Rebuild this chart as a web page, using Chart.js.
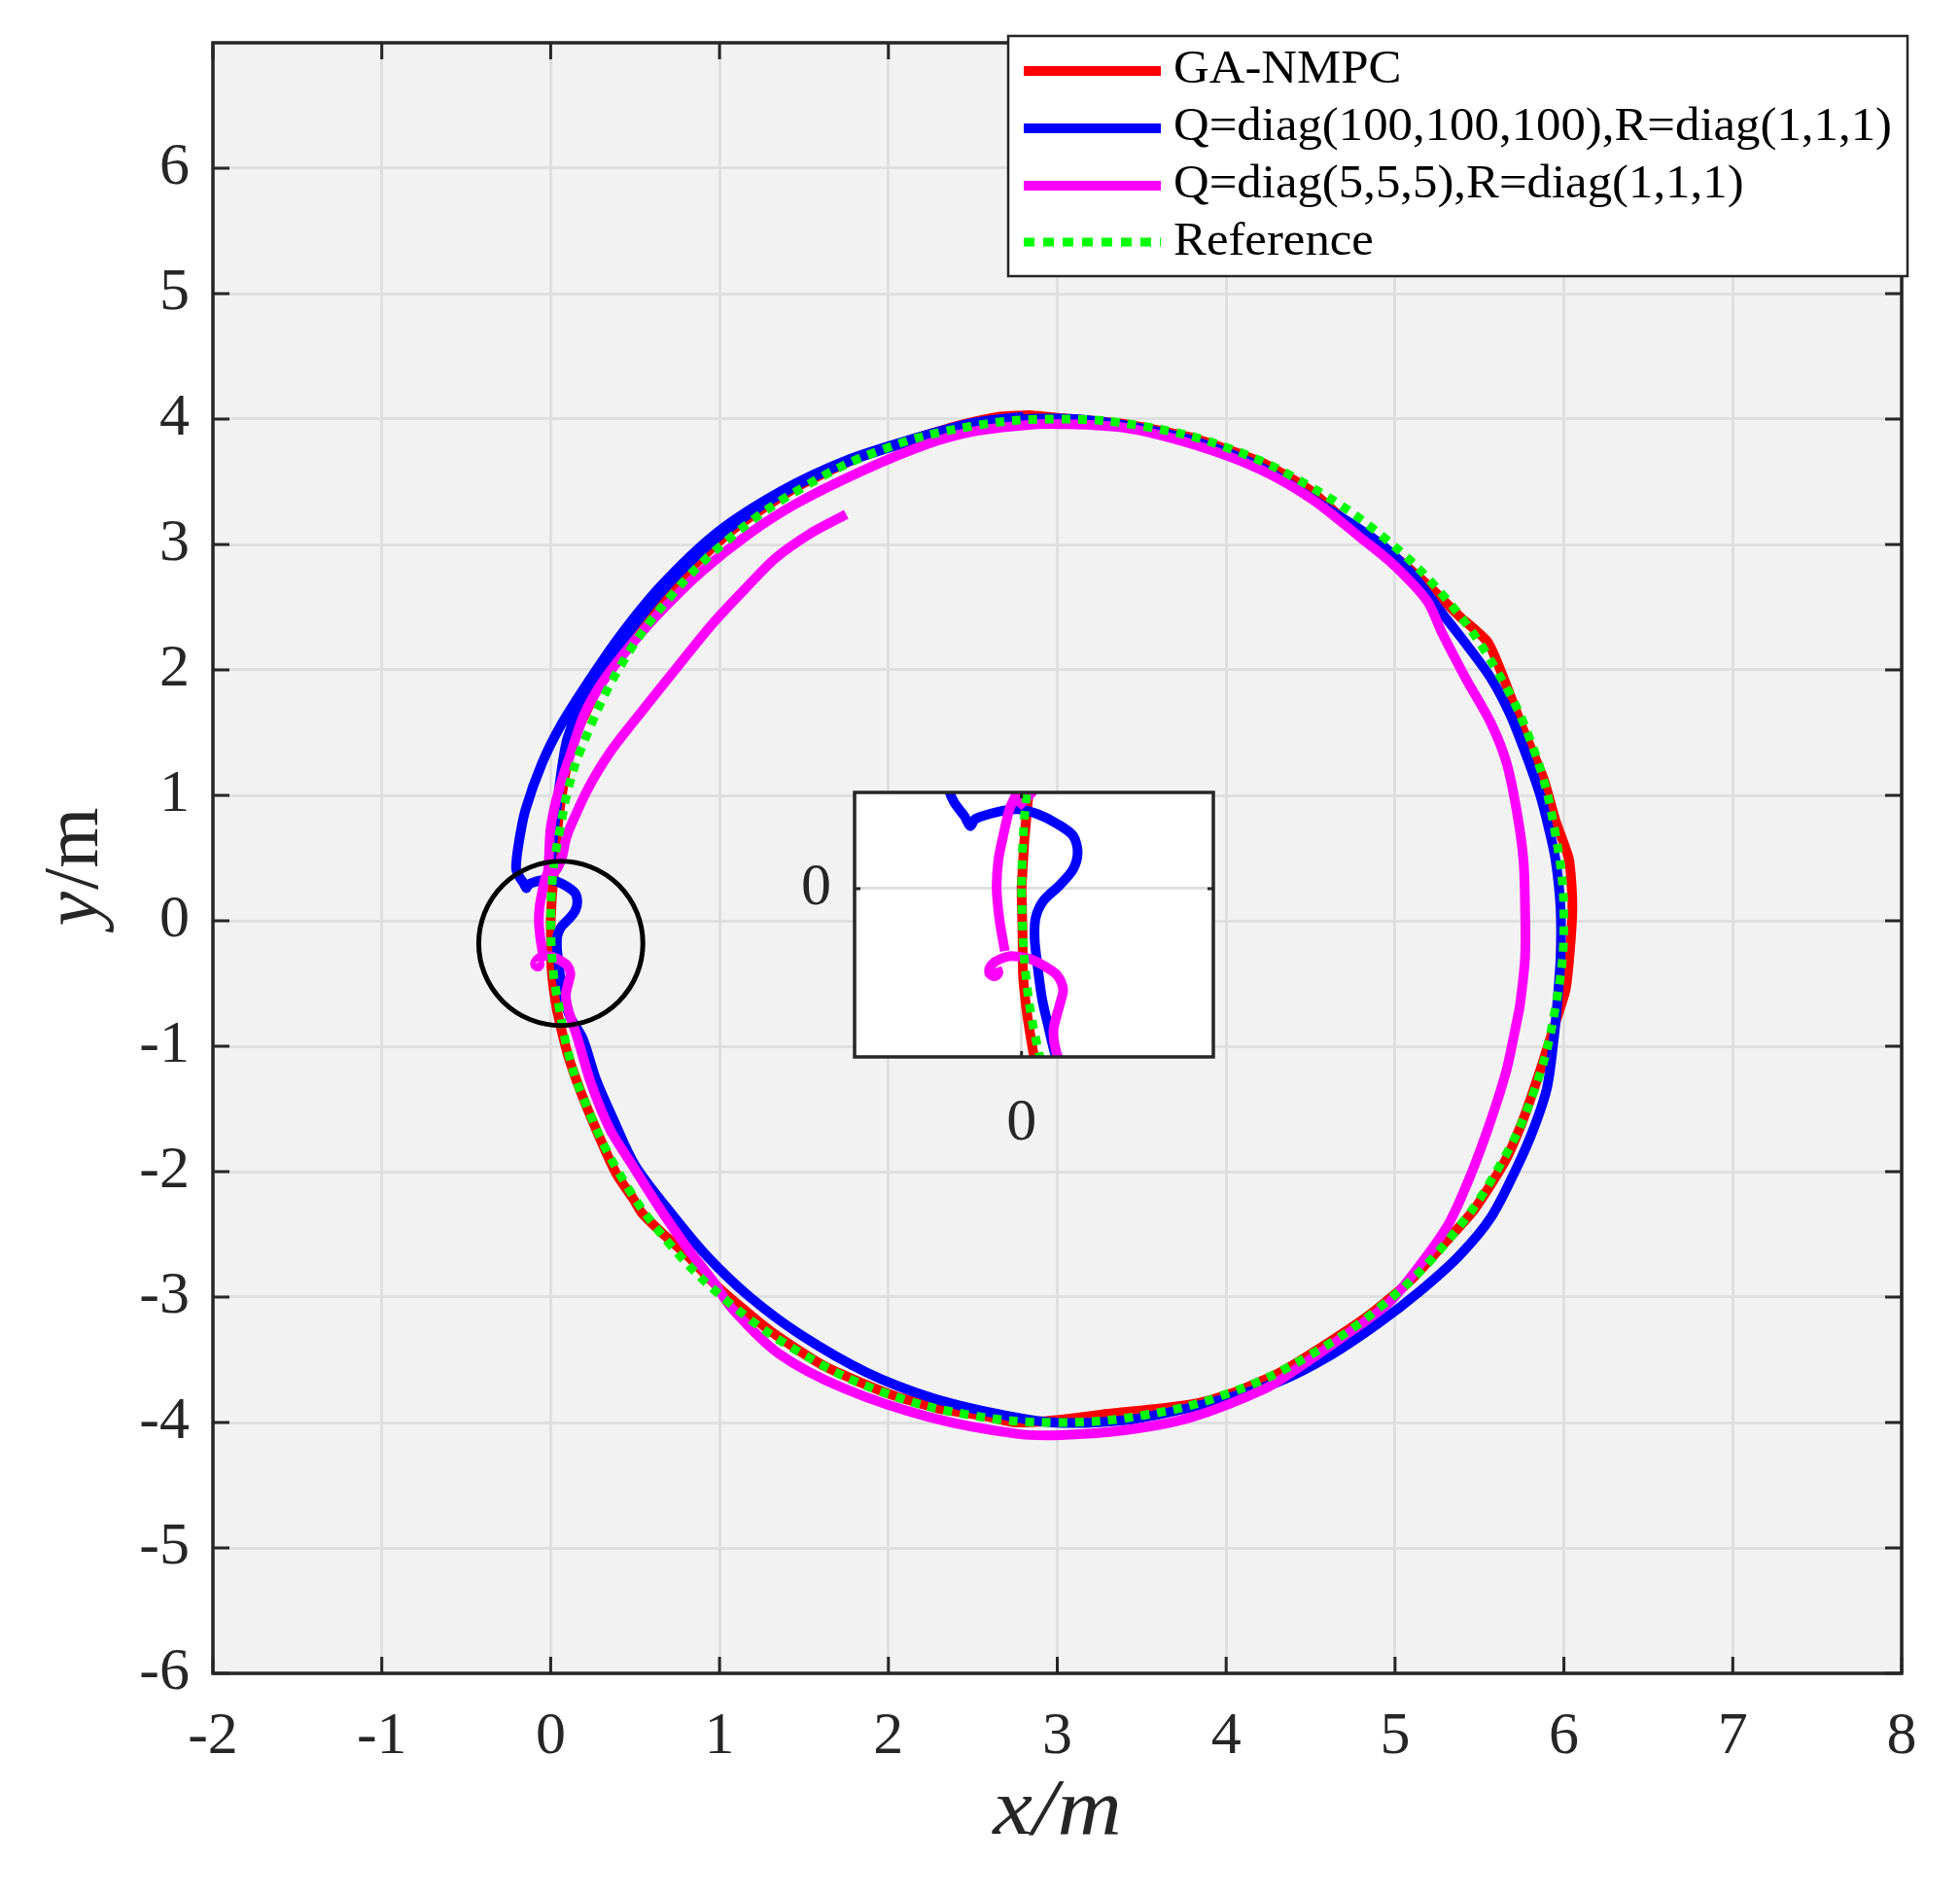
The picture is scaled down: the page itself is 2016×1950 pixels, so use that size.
<!DOCTYPE html>
<html>
<head>
<meta charset="utf-8">
<script src="https://cdn.jsdelivr.net/npm/chart.js@4.4.1/dist/chart.umd.min.js"></script>
<style>
  html, body { margin: 0; padding: 0; background: #fff; }
  #wrap { position: relative; width: 2016px; height: 1950px; }
  #main { position: absolute; left: 0; top: 0; }
  #inset { position: absolute; left: 760px; top: 770px; }
</style>
</head>
<body>
<div id="wrap">
  <canvas id="main" width="2016" height="1950"></canvas>
  <canvas id="inset" width="540" height="430"></canvas>
</div>
<script>
// ── Data (x/m and y/m) ──
const seriesNames = [
  'GA-NMPC',
  'Q=diag(100,100,100),R=diag(1,1,1)',
  'Q=diag(5,5,5),R=diag(1,1,1)',
  'Reference',
];
const seriesColors = ['#ff0000', '#0000ff', '#ff00ff', '#00ff00'];

const xTicks = [-2, -1, 0, 1, 2, 3, 4, 5, 6, 7, 8];
const yTicks = [-6, -5, -4, -3, -2, -1, 0, 1, 2, 3, 4, 5, 6];
const insetTicks = [0];

// reference trajectory
const refPath = [
  [0.00, 0.00], [0.004, -0.20], [0.015, -0.40], [0.03, -0.55], [0.05, -0.69], [0.10, -1.03], [0.18, -1.37],
  [0.40, -2.00], [0.70, -2.57], [1.07, -3.06], [1.50, -3.46], [1.97, -3.76], [2.48, -3.94],
  [3.00, -4.00], [3.52, -3.94], [4.03, -3.76], [4.50, -3.46], [4.93, -3.06], [5.30, -2.57],
  [5.60, -2.00], [5.82, -1.37], [5.95, -0.69], [6.00, 0.00], [5.95, 0.69], [5.82, 1.37],
  [5.60, 2.00], [5.30, 2.57], [4.93, 3.06], [4.50, 3.46], [4.03, 3.76], [3.52, 3.94],
  [3.00, 4.00], [2.48, 3.94], [1.97, 3.76], [1.50, 3.46], [1.07, 3.06], [0.70, 2.57],
  [0.40, 2.00], [0.18, 1.37], [0.10, 1.03], [0.05, 0.69], [0.03, 0.55], [0.015, 0.40], [0.004, 0.20], [0.00, 0.00],
];

// GA-NMPC
const gaPath = [
  [0.00, 0.00], [0.003, -0.20], [0.004, -0.35], [0.012, -0.48], [0.026, -0.62], [0.04, -0.73],
  [0.10, -1.06], [0.18, -1.37], [0.30, -1.76], [0.39, -2.02], [0.49, -2.22], [0.54, -2.33],
  [0.66, -2.49], [0.81, -2.67], [0.99, -2.92], [1.30, -3.27], [1.62, -3.55], [2.00, -3.77],
  [2.30, -3.89], [2.58, -3.95], [2.75, -4.00], [3.00, -3.98], [3.30, -3.93], [3.60, -3.89],
  [3.85, -3.84], [4.05, -3.76], [4.32, -3.60], [4.61, -3.36], [4.86, -3.13], [5.09, -2.87],
  [5.30, -2.56], [5.47, -2.30], [5.65, -1.92], [5.76, -1.58], [5.86, -1.19], [5.95, -0.81],
  [6.01, -0.55], [6.04, -0.16], [6.05, 0.15], [6.03, 0.49], [5.95, 0.80], [5.88, 1.13],
  [5.76, 1.52], [5.65, 1.91], [5.55, 2.22], [5.38, 2.43], [5.19, 2.68], [4.99, 2.91],
  [4.80, 3.07], [4.50, 3.43], [4.20, 3.66], [3.80, 3.85], [3.40, 3.96], [3.00, 4.01],
  [2.85, 4.03], [2.66, 4.02], [2.42, 3.95], [2.10, 3.82], [1.85, 3.71], [1.46, 3.46],
  [1.08, 3.12], [0.73, 2.68], [0.50, 2.32], [0.39, 2.12], [0.31, 1.96], [0.24, 1.75],
  [0.12, 1.39], [0.06, 0.95], [0.03, 0.60], [0.02, 0.40], [0.008, 0.20], [0.00, 0.00],
];

// Q=diag(100,100,100)
const q100Path = [
  [0.00, 0.33], [0.01, 0.60], [0.04, 0.95], [0.07, 1.25], [0.10, 1.46], [0.17, 1.70],
  [0.28, 1.95], [0.44, 2.26], [0.68, 2.66], [1.00, 3.07], [1.37, 3.41], [1.76, 3.66],
  [2.15, 3.83], [2.50, 3.95], [2.80, 4.00], [3.10, 4.00], [3.40, 3.95], [3.80, 3.83],
  [4.20, 3.62], [4.55, 3.33], [4.90, 3.02], [5.09, 2.78], [5.28, 2.45], [5.43, 2.19],
  [5.57, 1.93], [5.68, 1.65], [5.78, 1.31], [5.86, 1.00], [5.91, 0.74], [5.95, 0.49],
  [5.98, 0.10], [5.98, -0.29], [5.96, -0.67], [5.94, -0.94], [5.90, -1.33], [5.82, -1.66],
  [5.72, -1.97], [5.57, -2.36], [5.38, -2.67], [5.15, -2.95], [4.90, -3.21], [4.61, -3.47],
  [4.32, -3.67], [4.05, -3.79], [3.79, -3.88], [3.41, -3.98], [2.97, -4.00], [2.64, -3.93],
  [2.25, -3.80], [1.87, -3.60], [1.48, -3.30], [1.18, -3.00], [0.93, -2.68], [0.73, -2.36],
  [0.50, -1.95], [0.37, -1.58], [0.27, -1.27], [0.19, -0.94], [0.12, -0.78], [0.095, -0.69],
  [0.075, -0.57], [0.058, -0.46], [0.045, -0.32], [0.037, -0.21], [0.04, -0.12], [0.062, -0.05],
  [0.108, 0.015], [0.145, 0.08], [0.158, 0.15], [0.145, 0.22], [0.10, 0.27], [0.045, 0.31],
  [-0.01, 0.33], [-0.065, 0.32], [-0.13, 0.29], [-0.144, 0.26], [-0.16, 0.30], [-0.19, 0.36],
  [-0.205, 0.42], [-0.19, 0.61], [-0.15, 0.88], [-0.05, 1.26], [0.065, 1.57], [0.22, 1.90],
  [0.41, 2.27], [0.66, 2.68], [0.99, 3.10], [1.37, 3.43], [1.75, 3.67], [2.14, 3.84],
  [2.50, 3.97], [2.80, 4.02],
];

// Q=diag(5,5,5): main lap ending in the small blob, then (after the gap) the inner arc
const q5Path = [
  [-0.047, -0.26], [-0.062, -0.13], [-0.07, 0.00], [-0.065, 0.12], [-0.05, 0.23], [-0.034, 0.33],
  [-0.015, 0.40], [0.00, 0.74], [0.05, 1.05], [0.12, 1.34], [0.20, 1.65], [0.31, 1.91],
  [0.47, 2.19], [0.64, 2.45], [0.89, 2.78], [1.18, 3.09], [1.46, 3.33], [1.85, 3.59],
  [2.23, 3.80], [2.50, 3.90], [2.80, 3.95], [3.00, 3.96], [3.40, 3.93], [3.80, 3.80],
  [4.20, 3.60], [4.51, 3.36], [4.80, 3.05], [4.99, 2.84], [5.19, 2.55], [5.28, 2.29],
  [5.42, 1.93], [5.57, 1.57], [5.66, 1.26], [5.72, 0.88], [5.76, 0.49], [5.77, 0.10],
  [5.77, -0.29], [5.74, -0.67], [5.72, -0.81], [5.66, -1.19], [5.57, -1.58], [5.45, -2.02],
  [5.32, -2.41], [5.15, -2.74], [4.96, -3.05], [4.70, -3.31], [4.42, -3.57], [4.23, -3.73],
  [3.79, -3.96], [3.41, -4.06], [3.02, -4.10], [2.76, -4.09], [2.25, -3.96], [1.74, -3.73],
  [1.35, -3.45], [1.08, -3.10], [0.96, -2.87], [0.81, -2.61], [0.64, -2.28], [0.47, -1.92],
  [0.35, -1.66], [0.24, -1.30], [0.16, -0.94], [0.10, -0.69], [0.09, -0.59], [0.108, -0.48],
  [0.117, -0.42], [0.10, -0.36], [0.062, -0.32], [0.018, -0.29], [-0.03, -0.28], [-0.055, -0.29],
  [-0.075, -0.305], [-0.09, -0.33], [-0.09, -0.355], [-0.075, -0.365], [-0.065, -0.35], [-0.07, -0.33],
  null,
  [-0.01, 0.34], [0.04, 0.42], [0.07, 0.52], [0.09, 0.65], [0.12, 0.76], [0.22, 1.05],
  [0.35, 1.34], [0.54, 1.67], [0.76, 2.04], [0.96, 2.37], [1.14, 2.63], [1.33, 2.89],
  [1.54, 3.09], [1.75, 3.24],
];

// zoom marker round the start, and the inset window
const circleCenter = [0.06, -0.18];
const circleRadius = 0.486;          // in x units
const insetX = [-0.47, 0.54];
const insetY = [-0.70, 0.40];

// ── Shared helpers ──
const SERIF = '"Liberation Serif", "Times New Roman", serif';
const INK = '#262626';
const TICK_FONT = { family: SERIF, size: 62 };
const seriesTension = [0.2, 0.3, 0.3, 0.4];

const toPoint = (p) => (p ? { x: p[0], y: p[1] } : { x: null, y: null });

function makeDatasets() {
  const paths = [gaPath, q100Path, q5Path, refPath];
  return paths.map((p, i) => ({
    label: seriesNames[i],
    data: p.map(toPoint),
    showLine: true,
    borderColor: seriesColors[i],
    backgroundColor: seriesColors[i],
    borderWidth: i === 3 ? 9 : 10,
    borderDash: i === 3 ? [9, 8] : [],
    borderCapStyle: 'butt',
    borderJoinStyle: 'round',
    pointRadius: 0,
    pointHoverRadius: 0,
    pointHitRadius: 0,
    tension: seriesTension[i],
    capBezierPoints: false,
    clip: 0,
    order: 3 - i,           // reference ends up on top
  }));
}

// keep the plot box where it is: no extra room for end labels
function noLabelPadding(s) {
  s.paddingTop = 0;
  s.paddingBottom = 0;
  s.paddingLeft = 0;
  s.paddingRight = 0;
}

function innerTicks(ctx, chart, xs, ys, len) {
  const a = chart.chartArea;
  const sx = chart.scales.x, sy = chart.scales.y;
  ctx.save();
  ctx.strokeStyle = INK;
  ctx.lineWidth = 3;
  ctx.beginPath();
  xs.forEach((v) => {
    const px = sx.getPixelForValue(v);
    ctx.moveTo(px, a.bottom); ctx.lineTo(px, a.bottom - len);
    ctx.moveTo(px, a.top); ctx.lineTo(px, a.top + len);
  });
  ys.forEach((v) => {
    const py = sy.getPixelForValue(v);
    ctx.moveTo(a.left, py); ctx.lineTo(a.left + len, py);
    ctx.moveTo(a.right, py); ctx.lineTo(a.right - len, py);
  });
  ctx.stroke();
  ctx.lineWidth = 3.5;
  ctx.strokeRect(a.left, a.top, a.right - a.left, a.bottom - a.top);
  ctx.restore();
}

// ── Main chart decorations ──
const mainDeco = {
  id: 'mainDeco',
  beforeDraw(chart) {
    const { ctx, chartArea: a } = chart;
    ctx.save();
    ctx.fillStyle = '#f2f2f2';
    ctx.fillRect(a.left, a.top, a.right - a.left, a.bottom - a.top);
    ctx.restore();
  },
  afterDatasetsDraw(chart) {
    const { ctx } = chart;
    const sx = chart.scales.x, sy = chart.scales.y;
    const cx = sx.getPixelForValue(circleCenter[0]);
    const cy = sy.getPixelForValue(circleCenter[1]);
    const r = sx.getPixelForValue(circleCenter[0] + circleRadius) - cx;
    ctx.save();
    ctx.strokeStyle = '#000';
    ctx.lineWidth = 5;
    ctx.beginPath();
    ctx.arc(cx, cy, r, 0, Math.PI * 2);
    ctx.stroke();
    ctx.restore();
  },
  afterDraw(chart) {
    const { ctx, chartArea: a } = chart;
    innerTicks(ctx, chart, xTicks, yTicks, 17);

    // axis titles
    ctx.save();
    ctx.fillStyle = INK;
    ctx.textBaseline = 'alphabetic';
    ctx.save();
    ctx.translate((a.left + a.right) / 2, 1886);
    ctx.scale(1.12, 1);
    ctx.font = 'italic 82px ' + SERIF;
    ctx.textAlign = 'center';
    ctx.fillText('x/m', 0, 0);
    ctx.restore();

    ctx.translate(100, (a.top + a.bottom) / 2 + 10);
    ctx.rotate(-Math.PI / 2);
    ctx.textAlign = 'left';
    ctx.font = 'italic 80px ' + SERIF;
    const wy = ctx.measureText('y').width;
    ctx.font = '80px ' + SERIF;
    const wm = ctx.measureText('/m').width;
    const x0 = -(wy + wm) / 2;
    ctx.font = 'italic 80px ' + SERIF;
    ctx.fillText('y', x0, 0);
    ctx.font = '80px ' + SERIF;
    ctx.fillText('/m', x0 + wy + 2, 0);
    ctx.restore();

    // legend
    const box = { left: 1037, top: 37, right: 1962, bottom: 284 };
    const rowsLine = [73, 132, 191, 249];
    const rowsText = [85, 144, 203, 262];
    ctx.save();
    ctx.fillStyle = '#fff';
    ctx.fillRect(box.left, box.top, box.right - box.left, box.bottom - box.top);
    ctx.strokeStyle = INK;
    ctx.lineWidth = 2.5;
    ctx.strokeRect(box.left, box.top, box.right - box.left, box.bottom - box.top);
    ctx.font = '48px ' + SERIF;
    const stretch = 739 / ctx.measureText(seriesNames[1]).width;
    seriesNames.forEach((name, i) => {
      ctx.beginPath();
      ctx.strokeStyle = seriesColors[i];
      ctx.lineWidth = i === 3 ? 9 : 10;
      ctx.lineCap = 'butt';
      ctx.setLineDash(i === 3 ? [11, 9] : []);
      ctx.moveTo(1053, rowsLine[i]);
      ctx.lineTo(1194, rowsLine[i]);
      ctx.stroke();
      ctx.setLineDash([]);
      ctx.save();
      ctx.translate(1207, rowsText[i]);
      ctx.scale(stretch, 1);
      ctx.fillStyle = '#000';
      ctx.textAlign = 'left';
      ctx.textBaseline = 'alphabetic';
      ctx.fillText(name, 0, 0);
      ctx.restore();
    });
    ctx.restore();
  },
};

new Chart(document.getElementById('main'), {
  type: 'scatter',
  data: { datasets: makeDatasets() },
  options: {
    responsive: false,
    animation: false,
    devicePixelRatio: 1,
    events: [],
    layout: { padding: { top: 44, right: 60, left: 0, bottom: 0 } },
    plugins: { legend: { display: false }, tooltip: { enabled: false } },
    scales: {
      x: {
        type: 'linear',
        min: -2,
        max: 8,
        afterBuildTicks: (s) => { s.ticks = xTicks.map((v) => ({ value: v })); },
        afterFit: (s) => { s.height = 1950 - 1721; noLabelPadding(s); },
        ticks: { font: TICK_FONT, color: INK, padding: 29, maxRotation: 0, autoSkip: false, callback: (v) => String(v) },
        grid: { color: '#dfdfdf', lineWidth: 3, drawTicks: false },
        border: { display: false },
      },
      y: {
        type: 'linear',
        min: -6,
        max: 7,
        afterBuildTicks: (s) => { s.ticks = yTicks.map((v) => ({ value: v })); },
        afterFit: (s) => { s.width = 219; noLabelPadding(s); },
        ticks: { font: TICK_FONT, color: INK, padding: 24, autoSkip: false, callback: (v) => String(v) },
        grid: { color: '#dfdfdf', lineWidth: 3, drawTicks: false },
        border: { display: false },
      },
    },
  },
  plugins: [mainDeco],
});

// ── Inset (zoom of the start region) ──
const insetDeco = {
  id: 'insetDeco',
  beforeDraw(chart) {
    const { ctx, chartArea: a } = chart;
    ctx.save();
    ctx.fillStyle = '#fff';
    ctx.fillRect(a.left, a.top, a.right - a.left, a.bottom - a.top);
    ctx.restore();
  },
  afterDraw(chart) {
    innerTicks(chart.ctx, chart, insetTicks, insetTicks, 6);
  },
};

new Chart(document.getElementById('inset'), {
  type: 'scatter',
  data: { datasets: makeDatasets() },
  options: {
    responsive: false,
    animation: false,
    devicePixelRatio: 1,
    events: [],
    layout: { padding: { top: 45, right: 52, left: 0, bottom: 0 } },
    plugins: { legend: { display: false }, tooltip: { enabled: false } },
    scales: {
      x: {
        type: 'linear',
        min: insetX[0],
        max: insetX[1],
        afterBuildTicks: (s) => { s.ticks = insetTicks.map((v) => ({ value: v })); },
        afterFit: (s) => { s.height = 430 - 317; noLabelPadding(s); },
        ticks: { font: TICK_FONT, color: INK, padding: 32, maxRotation: 0, autoSkip: false, callback: (v) => String(v) },
        grid: { color: '#dfdfdf', lineWidth: 3, drawTicks: false },
        border: { display: false },
      },
      y: {
        type: 'linear',
        min: insetY[0],
        max: insetY[1],
        afterBuildTicks: (s) => { s.ticks = insetTicks.map((v) => ({ value: v })); },
        afterFit: (s) => { s.width = 119; noLabelPadding(s); },
        ticks: { font: TICK_FONT, color: INK, padding: 24, autoSkip: false, callback: (v) => String(v) },
        grid: { color: '#dfdfdf', lineWidth: 3, drawTicks: false },
        border: { display: false },
      },
    },
  },
  plugins: [insetDeco],
});
</script>
</body>
</html>
